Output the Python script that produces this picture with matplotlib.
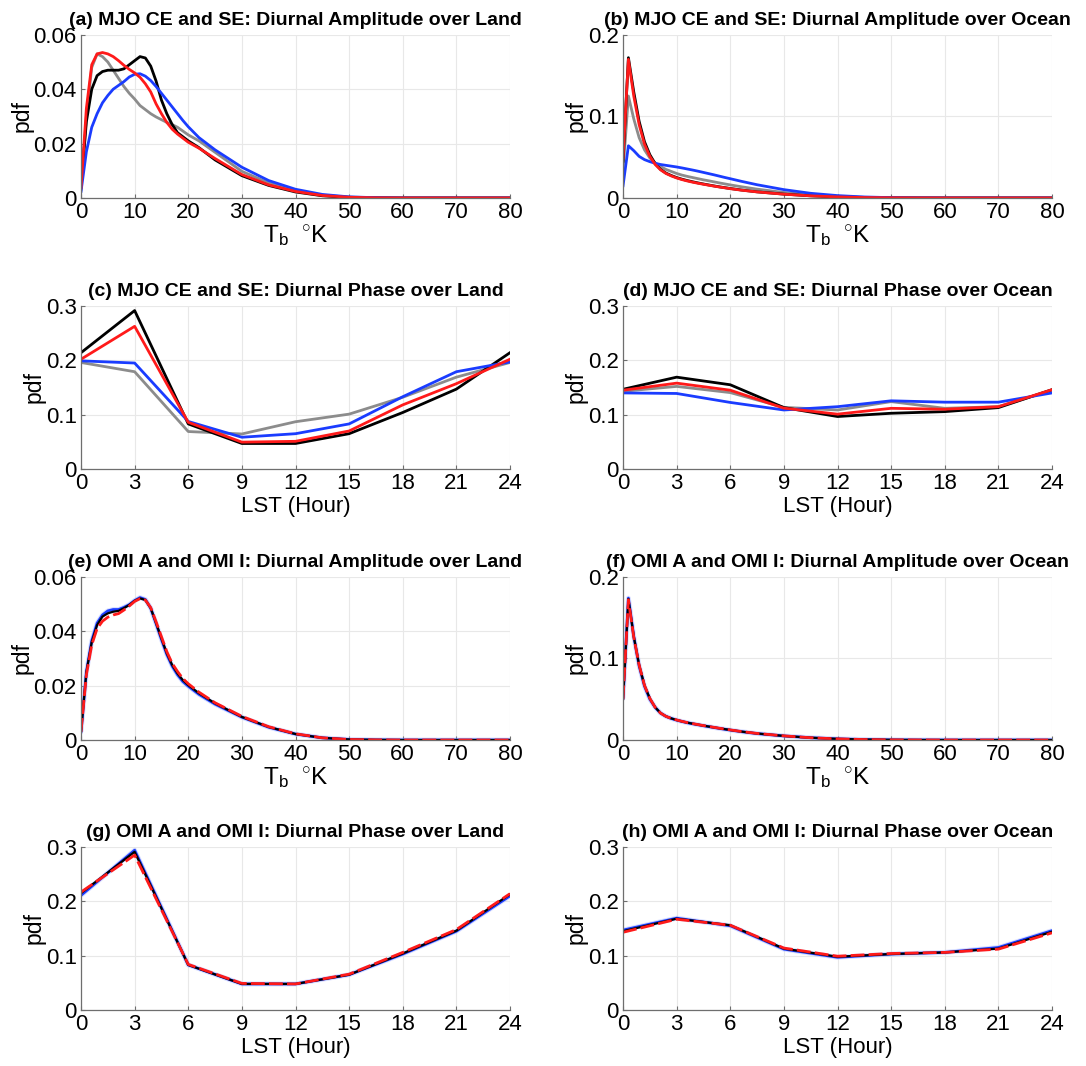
import matplotlib
matplotlib.use('Agg')
import matplotlib.pyplot as plt

plt.rcParams['font.family'] = ['Liberation Sans', 'DejaVu Sans']
plt.rcParams['mathtext.fontset'] = 'custom'
plt.rcParams['mathtext.rm'] = 'Liberation Sans'
plt.rcParams['mathtext.it'] = 'Liberation Sans'

# ---- amplitude pdfs (Tb in K) ----
amp_x = [0, 1, 2, 3, 4, 5, 6, 7, 8, 9, 10, 11, 12, 13, 14, 15, 16, 17, 18, 19, 20,
         22, 25, 30, 35, 40, 45, 50, 55, 60, 70, 80]

# (a) MJO CE / SE over land
a_black = [0.004, 0.028, 0.040, 0.045, 0.0465, 0.047, 0.047, 0.047, 0.0475, 0.049, 0.0505,
           0.052, 0.0515, 0.0485, 0.043, 0.036, 0.031, 0.027, 0.024, 0.0225, 0.021,
           0.0185, 0.014, 0.0082, 0.0046, 0.0022, 0.0008, 0.0002, 0.00005, 0, 0, 0]
a_red = [0.0037, 0.033, 0.049, 0.053, 0.0535, 0.053, 0.052, 0.0505, 0.0488, 0.0473, 0.046,
         0.0444, 0.042, 0.039, 0.0346, 0.031, 0.0278, 0.0253, 0.0235, 0.022, 0.0205,
         0.0183, 0.0145, 0.0086, 0.0048, 0.0024, 0.0009, 0.00025, 0.00005, 0, 0, 0]
a_gray = [0.003, 0.030, 0.048, 0.053, 0.052, 0.050, 0.047, 0.044, 0.041, 0.0385, 0.0364,
          0.034, 0.0325, 0.031, 0.0298, 0.0288, 0.0278, 0.027, 0.026, 0.0246, 0.0232,
          0.021, 0.0168, 0.0098, 0.0055, 0.0026, 0.001, 0.0003, 0.0001, 0, 0, 0]
a_blue = [0.0024, 0.017, 0.026, 0.031, 0.035, 0.0377, 0.040, 0.0414, 0.0428, 0.0445, 0.0455,
          0.0457, 0.0448, 0.0432, 0.041, 0.0385, 0.036, 0.0335, 0.031, 0.0285, 0.0262,
          0.0222, 0.0177, 0.0113, 0.0064, 0.0032, 0.0013, 0.0004, 0.0001, 0, 0, 0]

# (b) MJO CE / SE over ocean
b_black = [0.045, 0.172, 0.130, 0.094, 0.069, 0.053, 0.042, 0.035, 0.0305, 0.0275, 0.025,
           0.023, 0.0213, 0.0198, 0.0184, 0.0171, 0.0159, 0.0147, 0.0136, 0.0126, 0.0116,
           0.0098, 0.0075, 0.0047, 0.0026, 0.0013, 0.0005, 0.0002, 0.00005, 0, 0, 0]
b_red = [0.049, 0.170, 0.125, 0.090, 0.066, 0.051, 0.041, 0.0345, 0.030, 0.027, 0.0245,
         0.0225, 0.0208, 0.0193, 0.018, 0.0168, 0.0156, 0.0145, 0.0134, 0.0124, 0.0114,
         0.0096, 0.0074, 0.0046, 0.0026, 0.0013, 0.0005, 0.0002, 0.00005, 0, 0, 0]
b_gray = [0.033, 0.125, 0.097, 0.074, 0.059, 0.049, 0.043, 0.0385, 0.035, 0.0325, 0.030,
          0.028, 0.0264, 0.025, 0.0236, 0.0222, 0.021, 0.0197, 0.0184, 0.0172, 0.016,
          0.0138, 0.0108, 0.0067, 0.0037, 0.0018, 0.0007, 0.0002, 0.00005, 0, 0, 0]
b_blue = [0.015, 0.064, 0.058, 0.051, 0.047, 0.0445, 0.0425, 0.041, 0.040, 0.039, 0.038,
          0.0368, 0.0355, 0.0342, 0.0328, 0.0313, 0.0298, 0.0283, 0.0267, 0.0251, 0.0236,
          0.0205, 0.0162, 0.0102, 0.0057, 0.0029, 0.0012, 0.0004, 0.0001, 0, 0, 0]

# (e) OMI A / OMI I over land
e_black = [0.003, 0.025, 0.036, 0.0423, 0.0454, 0.0466, 0.0472, 0.0475, 0.0485, 0.0497, 0.0512,
           0.0521, 0.0515, 0.0485, 0.043, 0.0374, 0.0319, 0.0276, 0.0245, 0.022, 0.0202,
           0.0172, 0.0135, 0.0085, 0.0048, 0.0022, 0.0008, 0.0002, 0.00005, 0, 0, 0]
e_red = [0.003, 0.024, 0.035, 0.041, 0.0437, 0.0452, 0.046, 0.0465, 0.0478, 0.0493, 0.051,
         0.052, 0.0515, 0.0487, 0.0435, 0.038, 0.0325, 0.0282, 0.0252, 0.0226, 0.0207,
         0.0176, 0.0137, 0.0087, 0.0049, 0.0023, 0.0008, 0.0002, 0.00005, 0, 0, 0]
e_blue = [0.003, 0.025, 0.0365, 0.043, 0.046, 0.0475, 0.048, 0.048, 0.0488, 0.0498, 0.0513,
          0.0524, 0.0517, 0.0485, 0.0428, 0.037, 0.0315, 0.0272, 0.024, 0.0215, 0.0198,
          0.0168, 0.0132, 0.0084, 0.0047, 0.0022, 0.0008, 0.0002, 0.00005, 0, 0, 0]

# (f) OMI A / OMI I over ocean
f_black = [0.050, 0.173, 0.127, 0.092, 0.067, 0.051, 0.040, 0.033, 0.029, 0.0265, 0.0245,
           0.0228, 0.0213, 0.020, 0.0188, 0.0176, 0.0165, 0.0154, 0.0143, 0.0133, 0.0123,
           0.0104, 0.008, 0.005, 0.0028, 0.0014, 0.0006, 0.0002, 0.00005, 0, 0, 0]
f_red = [0.050, 0.172, 0.126, 0.092, 0.067, 0.051, 0.040, 0.033, 0.029, 0.0265, 0.0246,
         0.0229, 0.0214, 0.0201, 0.0189, 0.0177, 0.0166, 0.0155, 0.0144, 0.0134, 0.0124,
         0.0105, 0.0081, 0.0051, 0.0028, 0.0014, 0.0006, 0.0002, 0.00005, 0, 0, 0]
f_blue = [0.051, 0.174, 0.127, 0.091, 0.066, 0.050, 0.040, 0.033, 0.029, 0.0264, 0.0244,
          0.0227, 0.0212, 0.0199, 0.0187, 0.0175, 0.0164, 0.0153, 0.0142, 0.0132, 0.0122,
          0.0103, 0.0079, 0.005, 0.0028, 0.0014, 0.0006, 0.0002, 0.00005, 0, 0, 0]

# ---- phase pdfs (LST hour) ----
hours = [0, 3, 6, 9, 12, 15, 18, 21, 24]

c_black = [0.214, 0.2915, 0.083, 0.047, 0.047, 0.065, 0.104, 0.147, 0.214]
c_red = [0.202, 0.2625, 0.086, 0.0495, 0.051, 0.070, 0.118, 0.157, 0.202]
c_blue = [0.199, 0.195, 0.0875, 0.0585, 0.065, 0.083, 0.133, 0.179, 0.197]
c_gray = [0.196, 0.179, 0.069, 0.0645, 0.087, 0.101, 0.132, 0.169, 0.196]

d_black = [0.1467, 0.169, 0.155, 0.113, 0.0966, 0.1026, 0.1056, 0.113, 0.146]
d_red = [0.145, 0.158, 0.145, 0.112, 0.101, 0.1117, 0.110, 0.1147, 0.146]
d_gray = [0.143, 0.152, 0.1406, 0.1135, 0.1086, 0.124, 0.1117, 0.1147, 0.145]
d_blue = [0.140, 0.139, 0.1225, 0.1086, 0.1147, 0.1255, 0.123, 0.123, 0.140]

g_black = [0.215, 0.291, 0.083, 0.048, 0.048, 0.065, 0.104, 0.146, 0.213]
g_red = [0.217, 0.285, 0.084, 0.049, 0.048, 0.066, 0.106, 0.148, 0.214]
g_blue = [0.211, 0.294, 0.083, 0.048, 0.048, 0.065, 0.103, 0.145, 0.210]

h_black = [0.145, 0.168, 0.156, 0.113, 0.098, 0.103, 0.106, 0.113, 0.144]
h_red = [0.143, 0.167, 0.156, 0.114, 0.099, 0.104, 0.106, 0.112, 0.142]
h_blue = [0.147, 0.169, 0.155, 0.112, 0.097, 0.103, 0.106, 0.115, 0.146]

titles = ['(a) MJO CE and SE: Diurnal Amplitude over Land',
          '(b) MJO CE and SE: Diurnal Amplitude over Ocean',
          '(c) MJO CE and SE: Diurnal Phase over Land',
          '(d) MJO CE and SE: Diurnal Phase over Ocean',
          '(e) OMI A and OMI I: Diurnal Amplitude over Land',
          '(f) OMI A and OMI I: Diurnal Amplitude over Ocean',
          '(g) OMI A and OMI I: Diurnal Phase over Land',
          '(h) OMI A and OMI I: Diurnal Phase over Ocean']

BLACK = 'black'
GRAY = '#8c8c8c'
BLUE = '#1a3cff'
RED = '#ff1a1a'
LW = 2.0

fig = plt.figure(figsize=(10.86, 10.66), dpi=100)

lefts = [0.0746, 0.5737]
bottoms = [0.8143, 0.560, 0.3058, 0.0525]
W, H = 0.395, 0.153

axs = []
for r in range(4):
    for c in range(2):
        axs.append(fig.add_axes([lefts[c], bottoms[r], W, H]))


def style(ax, title, amp, ymax, yticks, yfmt):
    for s in ['top', 'right']:
        ax.spines[s].set_visible(False)
    for s in ['left', 'bottom']:
        ax.spines[s].set_color('#6e6e6e')
        ax.spines[s].set_linewidth(0.9)
    ax.grid(True, color='#e8e8e8', linewidth=0.8)
    ax.set_axisbelow(True)
    ax.tick_params(direction='in', length=3, width=0.8, color='#6e6e6e',
                   labelsize=16, pad=3)
    ax.set_ylim(0, ymax)
    ax.set_yticks(yticks)
    ax.set_yticklabels([yfmt(v) for v in yticks])
    if amp:
        ax.set_xlim(0, 80)
        ax.set_xticks(range(0, 81, 10))
        ax.set_xlabel(r'$\mathrm{T_b\ \ ^{\circ}K}$', fontsize=17.5, labelpad=0)
    else:
        ax.set_xlim(0, 24)
        ax.set_xticks(hours)
        ax.set_xlabel('LST (Hour)', fontsize=16, labelpad=1)
    ax.set_ylabel('pdf', fontsize=16.5, labelpad=0)
    ax.set_title(title, fontsize=14, fontweight='bold', pad=7)


def fmt_small(v):
    return '0' if v == 0 else '%.2f' % v


def fmt_big(v):
    return '0' if v == 0 else '%.1f' % v


# row 1 and 2: MJO CE / SE
ax = axs[0]
ax.plot(amp_x, a_gray, color=GRAY, lw=LW)
ax.plot(amp_x, a_black, color=BLACK, lw=LW)
ax.plot(amp_x, a_blue, color=BLUE, lw=LW)
ax.plot(amp_x, a_red, color=RED, lw=LW)
style(ax, titles[0], True, 0.06, [0, 0.02, 0.04, 0.06], fmt_small)

ax = axs[1]
ax.plot(amp_x, b_gray, color=GRAY, lw=LW)
ax.plot(amp_x, b_black, color=BLACK, lw=LW)
ax.plot(amp_x, b_blue, color=BLUE, lw=LW)
ax.plot(amp_x, b_red, color=RED, lw=LW)
style(ax, titles[1], True, 0.2, [0, 0.1, 0.2], fmt_big)

ax = axs[2]
ax.plot(hours, c_gray, color=GRAY, lw=LW)
ax.plot(hours, c_black, color=BLACK, lw=LW)
ax.plot(hours, c_blue, color=BLUE, lw=LW)
ax.plot(hours, c_red, color=RED, lw=LW)
style(ax, titles[2], False, 0.3, [0, 0.1, 0.2, 0.3], fmt_big)

ax = axs[3]
ax.plot(hours, d_gray, color=GRAY, lw=LW)
ax.plot(hours, d_black, color=BLACK, lw=LW)
ax.plot(hours, d_blue, color=BLUE, lw=LW)
ax.plot(hours, d_red, color=RED, lw=LW)
style(ax, titles[3], False, 0.3, [0, 0.1, 0.2, 0.3], fmt_big)


# rows 3 and 4: OMI A / OMI I (blue with light spread, black, red dashed)
def omi(ax, x, blue, black, red):
    ax.plot(x, blue, color='#aab8ff', lw=3.5, alpha=0.45, solid_capstyle='butt')
    ax.plot(x, blue, color=BLUE, lw=LW)
    ax.plot(x, black, color=BLACK, lw=1.6)
    ax.plot(x, red, color=RED, lw=LW, ls=(0, (5, 1.5)))


omi(axs[4], amp_x, e_blue, e_black, e_red)
style(axs[4], titles[4], True, 0.06, [0, 0.02, 0.04, 0.06], fmt_small)
omi(axs[5], amp_x, f_blue, f_black, f_red)
style(axs[5], titles[5], True, 0.2, [0, 0.1, 0.2], fmt_big)
omi(axs[6], hours, g_blue, g_black, g_red)
style(axs[6], titles[6], False, 0.3, [0, 0.1, 0.2, 0.3], fmt_big)
omi(axs[7], hours, h_blue, h_black, h_red)
style(axs[7], titles[7], False, 0.3, [0, 0.1, 0.2, 0.3], fmt_big)

fig.savefig('out.png', dpi=100)
